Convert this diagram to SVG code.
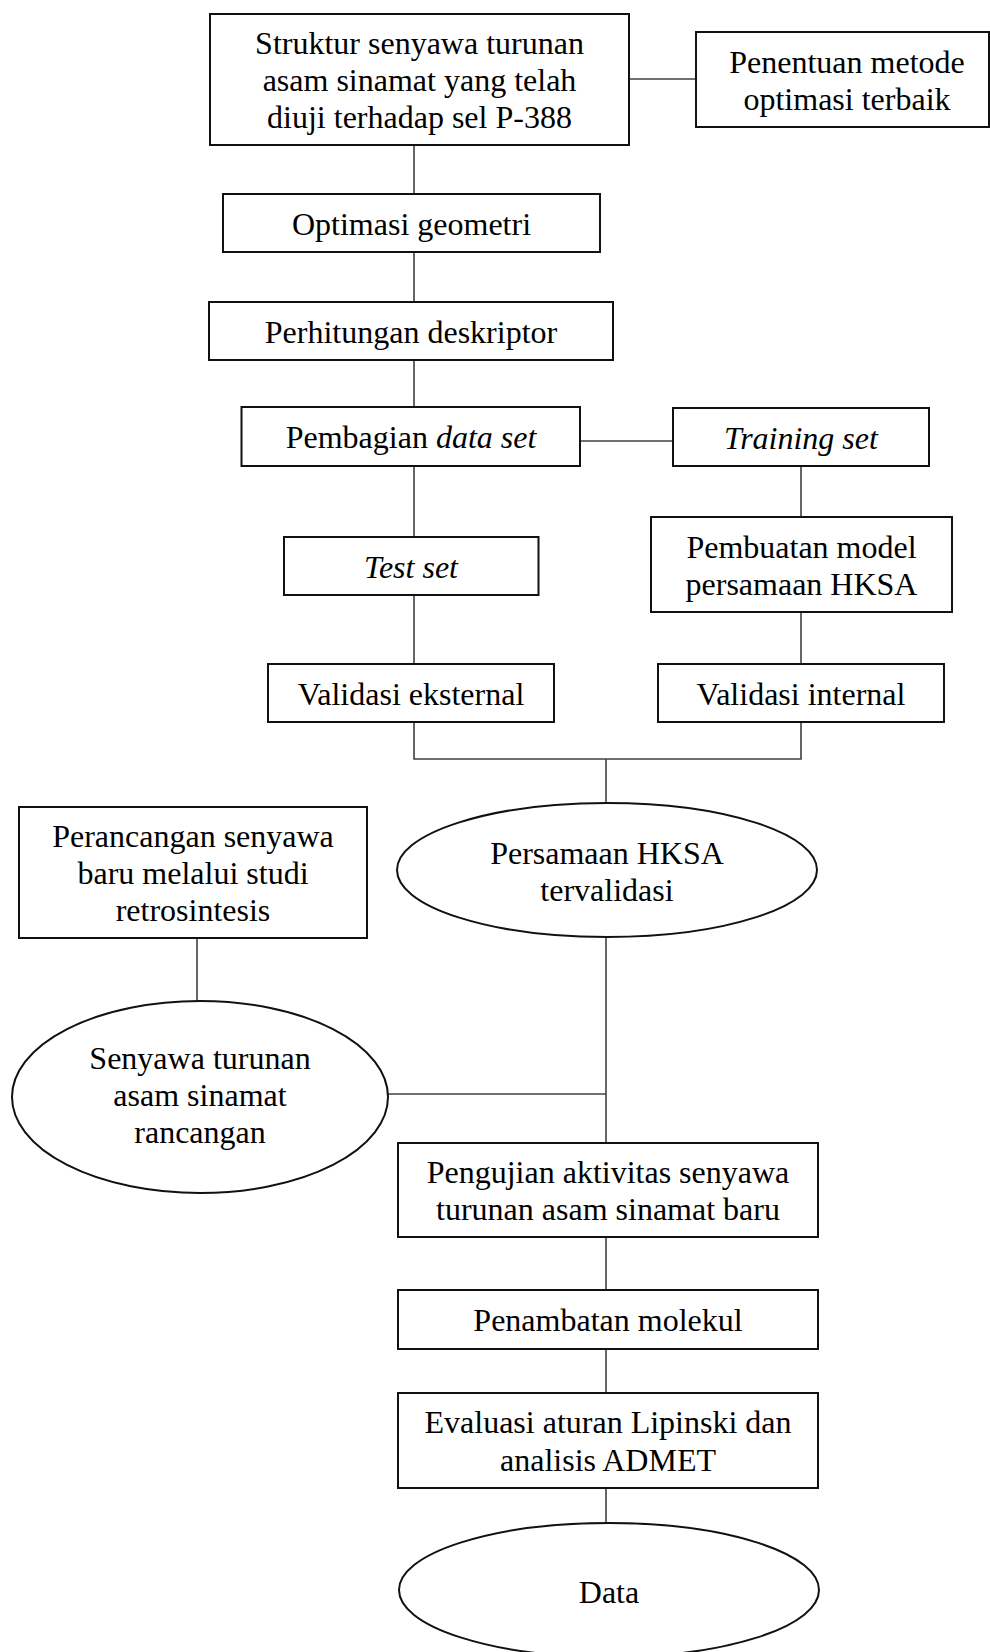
<svg xmlns="http://www.w3.org/2000/svg" width="990" height="1652" viewBox="0 0 990 1652">
<style>
.b{fill:#fff;stroke:#111;stroke-width:2}
.t{font-family:"Liberation Serif","Times New Roman",serif;font-size:32px;fill:#000;text-anchor:middle}
.i{font-style:italic}
.c{fill:none;stroke:#404040;stroke-width:1.6}
</style>
<rect width="990" height="1652" fill="#fff"/>
<g id="connectors">
<line class="c" x1="629" y1="79" x2="696" y2="79"/>
<line class="c" x1="414" y1="145" x2="414" y2="194"/>
<line class="c" x1="414" y1="252" x2="414" y2="302"/>
<line class="c" x1="414" y1="360" x2="414" y2="407"/>
<line class="c" x1="580" y1="441" x2="673" y2="441"/>
<line class="c" x1="414" y1="466" x2="414" y2="537"/>
<line class="c" x1="414" y1="595" x2="414" y2="664"/>
<line class="c" x1="801" y1="466" x2="801" y2="517"/>
<line class="c" x1="801" y1="612" x2="801" y2="664"/>
<polyline class="c" points="414,722 414,759 801,759 801,722"/>
<line class="c" x1="606" y1="759" x2="606" y2="803"/>
<line class="c" x1="197" y1="938" x2="197" y2="1001"/>
<line class="c" x1="606" y1="937" x2="606" y2="1143"/>
<line class="c" x1="388" y1="1094" x2="606" y2="1094"/>
<line class="c" x1="606" y1="1237" x2="606" y2="1290"/>
<line class="c" x1="606" y1="1349" x2="606" y2="1393"/>
<line class="c" x1="606" y1="1488" x2="606" y2="1523"/>
</g>
<g id="n1"><rect class="b" x="210" y="14" width="419" height="131"/>
<text class="t" x="419.5" y="54">Struktur senyawa turunan</text>
<text class="t" x="419.5" y="91">asam sinamat yang telah</text>
<text class="t" x="419.5" y="128">diuji terhadap sel P-388</text></g>
<g id="n2"><rect class="b" x="696" y="32" width="293" height="95"/>
<text class="t" x="847" y="72.5">Penentuan metode</text>
<text class="t" x="847" y="109.5">optimasi terbaik</text></g>
<g id="n3"><rect class="b" x="223" y="194" width="377" height="58"/>
<text class="t" x="411.5" y="234.5">Optimasi geometri</text></g>
<g id="n4"><rect class="b" x="209" y="302" width="404" height="58"/>
<text class="t" x="411" y="342.5">Perhitungan deskriptor</text></g>
<g id="n5"><rect class="b" x="241.5" y="407" width="338.5" height="59"/>
<text class="t" x="411" y="448">Pembagian <tspan class="i">data set</tspan></text></g>
<g id="n6"><rect class="b" x="673" y="408" width="256" height="58"/>
<text class="t i" x="801" y="448.5">Training set</text></g>
<g id="n7"><rect class="b" x="284" y="537" width="254.5" height="58"/>
<text class="t i" x="411" y="577.5">Test set</text></g>
<g id="n8"><rect class="b" x="651" y="517" width="301" height="95"/>
<text class="t" x="801.5" y="557.5">Pembuatan model</text>
<text class="t" x="801.5" y="594.5">persamaan HKSA</text></g>
<g id="n9"><rect class="b" x="268" y="664" width="286" height="58"/>
<text class="t" x="411" y="704.5">Validasi eksternal</text></g>
<g id="n10"><rect class="b" x="658" y="664" width="286" height="58"/>
<text class="t" x="801" y="704.5">Validasi internal</text></g>
<g id="n11"><ellipse class="b" cx="607" cy="870" rx="210" ry="67"/>
<text class="t" x="607" y="864">Persamaan HKSA</text>
<text class="t" x="607" y="901">tervalidasi</text></g>
<g id="n12"><rect class="b" x="19" y="807" width="348" height="131"/>
<text class="t" x="193" y="847">Perancangan senyawa</text>
<text class="t" x="193" y="884">baru melalui studi</text>
<text class="t" x="193" y="921">retrosintesis</text></g>
<g id="n13"><ellipse class="b" cx="200" cy="1097" rx="188" ry="96"/>
<text class="t" x="200" y="1069">Senyawa turunan</text>
<text class="t" x="200" y="1106">asam sinamat</text>
<text class="t" x="200" y="1143">rancangan</text></g>
<g id="n14"><rect class="b" x="398" y="1143" width="420" height="94"/>
<text class="t" x="608" y="1183">Pengujian aktivitas senyawa</text>
<text class="t" x="608" y="1220">turunan asam sinamat baru</text></g>
<g id="n15"><rect class="b" x="398" y="1290" width="420" height="59"/>
<text class="t" x="608" y="1331">Penambatan molekul</text></g>
<g id="n16"><rect class="b" x="398" y="1393" width="420" height="95"/>
<text class="t" x="608" y="1433">Evaluasi aturan Lipinski dan</text>
<text class="t" x="608" y="1471">analisis ADMET</text></g>
<g id="n17"><ellipse class="b" cx="609" cy="1590" rx="210" ry="67"/>
<text class="t" x="609" y="1603">Data</text></g>
</svg>
